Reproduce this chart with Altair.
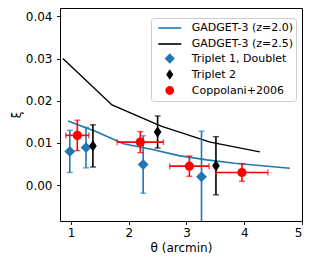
import altair as alt
import pandas as pd

# GADGET-3 model curves
gz20_theta = [0.95, 1.43, 1.91, 2.39, 2.87, 3.35, 3.83, 4.31, 4.79]
gz20_xi = [0.0152, 0.0127, 0.0098, 0.0085, 0.0070, 0.0060, 0.0052, 0.0046, 0.0040]
gz25_theta = [0.86, 1.71, 2.56, 3.41, 4.27]
gz25_xi = [0.0300, 0.0190, 0.0140, 0.0102, 0.0079]

# Triplet 1, Doublet
t1_theta = [0.98, 1.26, 2.25, 3.26]
t1_xi = [0.0080, 0.0089, 0.0049, 0.0020]
t1_err = [0.0050, 0.0048, 0.0068, 0.0108]

# Triplet 2
t2_theta = [1.38, 2.50, 3.51]
t2_xi = [0.0093, 0.0126, 0.0046]
t2_err = [0.0050, 0.0038, 0.0069]

# Coppolani+2006
c_theta = [1.11, 2.20, 3.05, 3.96]
c_xi = [0.0118, 0.0102, 0.0045, 0.0030]
c_yerr = [0.0036, 0.0025, 0.0024, 0.0021]
c_xerr = [0.20, 0.40, 0.34, 0.45]

labels = ["GADGET-3 (z=2.0)", "GADGET-3 (z=2.5)", "Triplet 1, Doublet", "Triplet 2", "Coppolani+2006"]
colors = ["#1f77b4", "#000000", "#1f77b4", "#000000", "#ff0000"]
shapes = ["M-2,0H2", "M-2,0H2", "diamond", "M0,-1L0.68,0L0,1L-0.68,0Z", "circle"]
sizes = [132.25, 132.25, 64, 60, 52]

BLUE, BLACK, RED = "#1f77b4", "#000000", "#ff0000"

def df_err(theta, xi, err, name, xerr=None):
    d = pd.DataFrame({"theta": theta, "xi": xi, "err": err})
    d["lo"] = d["xi"] - d["err"]
    d["hi"] = d["xi"] + d["err"]
    if xerr is not None:
        d["xerr"] = xerr
        d["xlo"] = d["theta"] - d["xerr"]
        d["xhi"] = d["theta"] + d["xerr"]
    d["series"] = name
    return d

d20 = pd.DataFrame({"theta": gz20_theta, "xi": gz20_xi})
d25 = pd.DataFrame({"theta": gz25_theta, "xi": gz25_xi})
dt1 = df_err(t1_theta, t1_xi, t1_err, labels[2])
dt2 = df_err(t2_theta, t2_xi, t2_err, labels[3])
dc = df_err(c_theta, c_xi, c_yerr, labels[4], c_xerr)
dpts = pd.concat([dt1, dt2, dc], ignore_index=True)
dpts["ord"] = dpts["series"].map({labels[2]: 0, labels[3]: 1, labels[4]: 2})

xs = alt.Scale(domain=[0.81, 5.0], nice=False, zero=False)
ys = alt.Scale(domain=[-0.0085, 0.042], nice=False, zero=False)

X = alt.X("theta:Q", scale=xs, axis=alt.Axis(values=[1, 2, 3, 4, 5], format="d", title="θ (arcmin)"))
Y = alt.Y("xi:Q", scale=ys, axis=alt.Axis(values=[0, 0.01, 0.02, 0.03, 0.04], format=".2f", title="ξ"))

leg = alt.Legend(
    title=None, orient="none", legendX=91, legendY=10, fillColor="white", strokeColor="#cccccc",
    cornerRadius=3, padding=3, labelFontSize=11, labelFont="DejaVu Sans", labelColor="black",
    symbolOffset=8.75, labelOffset=15, rowPadding=1, gridAlign="all",
    symbolStrokeWidth=1.6, symbolOpacity=1,
)

line20 = alt.Chart(d20).mark_line(color=BLUE, strokeWidth=1.6, clip=True).encode(x=X, y=Y)
line25 = alt.Chart(d25).mark_line(color=BLACK, strokeWidth=1.4, clip=True).encode(x=X, y=Y)

def err_layers(d, color, xerr=False):
    base = alt.Chart(d)
    layers = [
        base.mark_rule(color=color, strokeWidth=1.6, clip=True).encode(
            x=alt.X("theta:Q", scale=xs), y=alt.Y("lo:Q", scale=ys), y2="hi:Q"),
        base.mark_tick(color=color, orient="horizontal", size=6, thickness=1.4, clip=True).encode(
            x=alt.X("theta:Q", scale=xs), y=alt.Y("lo:Q", scale=ys)),
        base.mark_tick(color=color, orient="horizontal", size=6, thickness=1.4, clip=True).encode(
            x=alt.X("theta:Q", scale=xs), y=alt.Y("hi:Q", scale=ys)),
    ]
    if xerr:
        layers += [
            base.mark_rule(color=color, strokeWidth=1.6, clip=True).encode(
                x=alt.X("xlo:Q", scale=xs), x2="xhi:Q", y=alt.Y("xi:Q", scale=ys)),
            base.mark_tick(color=color, orient="vertical", size=6, thickness=1.4, clip=True).encode(
                x=alt.X("xlo:Q", scale=xs), y=alt.Y("xi:Q", scale=ys)),
            base.mark_tick(color=color, orient="vertical", size=6, thickness=1.4, clip=True).encode(
                x=alt.X("xhi:Q", scale=xs), y=alt.Y("xi:Q", scale=ys)),
        ]
    return layers

points = alt.Chart(dpts).mark_point(filled=True, opacity=1, clip=True).encode(
    x=X, y=Y,
    fill=alt.Fill("series:N", scale=alt.Scale(domain=labels, range=colors), legend=leg),
    stroke=alt.Stroke("series:N", scale=alt.Scale(domain=labels, range=colors), legend=leg),
    shape=alt.Shape("series:N", scale=alt.Scale(domain=labels, range=shapes), legend=leg),
    size=alt.Size("series:N", scale=alt.Scale(type="ordinal", domain=labels, range=sizes), legend=leg),
    order=alt.Order("ord:Q"),
)

chart = alt.layer(
    line20, line25,
    *err_layers(dt1, BLUE), *err_layers(dt2, BLACK), *err_layers(dc, RED, xerr=True),
    points,
).properties(
    width=242, height=213,
    padding={"left": 52, "top": 0, "right": 4, "bottom": 38},
    autosize=alt.AutoSizeParams(type="none"),
    background="white",
).configure_axis(
    grid=False, domain=False, tickColor="black", tickSize=3.5, tickWidth=0.9,
    labelFont="DejaVu Sans", labelFontSize=12, labelColor="black", labelPadding=3,
    titleFont="DejaVu Sans", titleFontSize=12, titleFontWeight="normal", titleColor="black",
).configure_axisY(labelPadding=4.5, titlePadding=2).configure_axisX(titlePadding=4).configure_view(
    stroke="black", strokeWidth=1
)

chart.save("out.html", embed_options={"renderer": "svg", "actions": False})
